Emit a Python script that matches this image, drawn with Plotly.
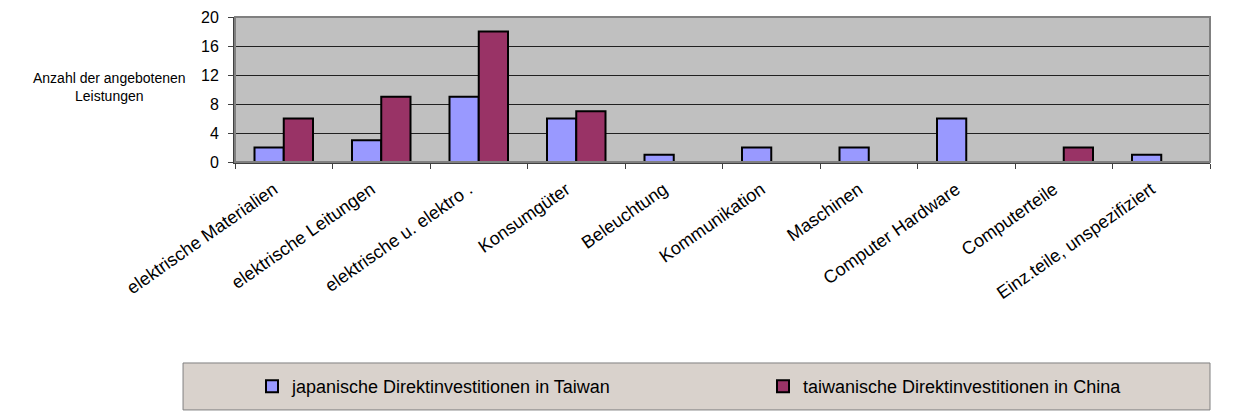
import plotly.graph_objects as go

categories = [
    "elektrische Materialien",
    "elektrische Leitungen",
    "elektrische u. elektro .",
    "Konsumgüter",
    "Beleuchtung",
    "Kommunikation",
    "Maschinen",
    "Computer Hardware",
    "Computerteile",
    "Einz.teile, unspezifiziert",
]
japan_taiwan = [2, 3, 9, 6, 1, 2, 2, 6, 0, 1]
taiwan_china = [6, 9, 18, 7, 0, 0, 0, 0, 2, 0]
series_names = [
    "japanische Direktinvestitionen in Taiwan",
    "taiwanische Direktinvestitionen in China",
]
y_ticks = [0, 4, 8, 12, 16, 20]

FONT = "Liberation Sans, Arial, sans-serif"

fig = go.Figure()
fig.add_trace(go.Bar(
    x=categories, y=japan_taiwan, name=series_names[0], legend="legend",
    marker=dict(color="#9999FF", line=dict(color="black", width=2)),
))
fig.add_trace(go.Bar(
    x=categories, y=taiwan_china, name=series_names[1], legend="legend2",
    marker=dict(color="#993366", line=dict(color="black", width=2)),
))

leg_common = dict(
    orientation="h",
    yanchor="middle", y=-1.548,
    xanchor="left",
    bgcolor="rgba(0,0,0,0)",
    font=dict(family=FONT, size=18),
    itemwidth=30,
)

# page body has an 8px margin -> figure is 8px smaller and shifted
fig.update_layout(
    width=1225, height=404,
    margin=dict(l=227, r=23, t=9, b=250, autoexpand=False),
    paper_bgcolor="white",
    plot_bgcolor="#C0C0C0",
    barmode="group",
    bargap=0.4,
    bargroupgap=0,
    font=dict(family=FONT, color="black", size=13),
    showlegend=True,
    legend=dict(x=(252 - 235) / 975, **leg_common),
    legend2=dict(x=(763 - 235) / 975, **leg_common),
    shapes=[dict(
        type="rect", xref="paper", yref="paper",
        x0=-0.0533, x1=1.0, y0=-1.71, y1=-1.386,
        fillcolor="#D9D2CC", line=dict(color="#808080", width=1),
        layer="below",
    ), dict(
        type="rect", xref="paper", yref="paper", x0=0, x1=1, y0=0, y1=1,
        line=dict(color="#808080", width=2), fillcolor="rgba(0,0,0,0)", layer="above",
    )],
    annotations=[dict(
        text="Anzahl der angebotenen<br>Leistungen",
        xref="paper", yref="paper",
        x=-0.129, y=0.52, xanchor="center", yanchor="middle",
        showarrow=False, align="center",
        font=dict(family=FONT, size=14),
    )],
)

fig.update_xaxes(
    automargin=False,
    tickangle=-35,
    tickson="boundaries",
    ticks="outside", ticklen=5, tickcolor="#404040",
    ticklabelstandoff=8, ticklabelshift=-10,
    showline=True, linecolor="#404040", linewidth=2,
    showgrid=False,
    tickfont=dict(family=FONT, size=18),
)
fig.update_yaxes(
    automargin=False,
    range=[0, 20],
    tickvals=y_ticks,
    ticks="outside", ticklen=5, tickcolor="#404040",
    ticklabelstandoff=6,
    showline=True, linecolor="#404040", linewidth=2,
    showgrid=True, gridcolor="#202020", gridwidth=1,
    zeroline=False,
    tickfont=dict(family=FONT, size=16),
)

fig.write_html("out.html")
